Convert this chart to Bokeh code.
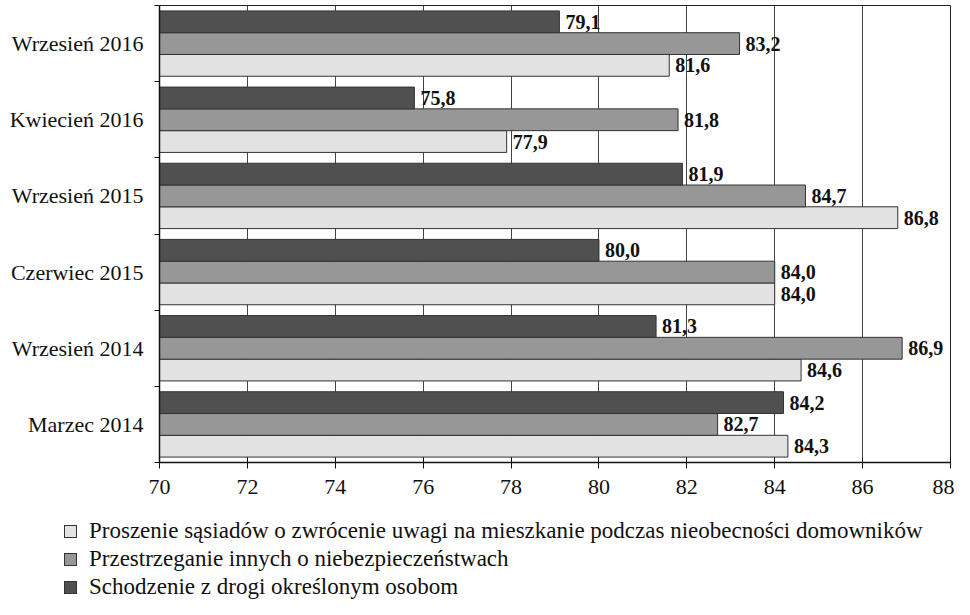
from bokeh.plotting import figure
from bokeh.layouts import column
from bokeh.models import Range1d, FixedTicker, ColumnDataSource, Div
from bokeh.core.properties import value
from bokeh.embed import file_html
from bokeh.resources import INLINE

categories = ["Marzec 2014", "Wrzesień 2014", "Czerwiec 2015",
              "Wrzesień 2015", "Kwiecień 2016", "Wrzesień 2016"]
series_names = [
    "Proszenie sąsiadów o zwrócenie uwagi na mieszkanie podczas nieobecności domowników",
    "Przestrzeganie innych o niebezpieczeństwach",
    "Schodzenie z drogi określonym osobom",
]
proszenie = [84.3, 84.6, 84.0, 86.8, 77.9, 81.6]
przestrzeganie = [82.7, 86.9, 84.0, 84.7, 81.8, 83.2]
schodzenie = [84.2, 81.3, 80.0, 81.9, 75.8, 79.1]
x_ticks = [70, 72, 74, 76, 78, 80, 82, 84, 86, 88]

FONT = "Liberation Serif"
colors = ["#e2e2e2", "#979797", "#505050"]
offsets = [-0.286, 0.0, 0.286]
bar_h = 0.286

W = 954
H1 = 502
H2 = 97

p = figure(width=W, height=H1, output_backend="svg", toolbar_location=None,
           x_range=Range1d(70, 88), y_range=Range1d(0, len(categories)),
           min_border_left=159, min_border_right=4, min_border_top=5,
           min_border_bottom=40)
p.outline_line_color = "#222222"
p.outline_line_width = 1

for vals, col, off in zip([proszenie, przestrzeganie, schodzenie], colors, offsets):
    ys = [i + 0.5 + off for i in range(len(categories))]
    src = ColumnDataSource(dict(y=ys, x=vals, labels=[f"{v:.1f}".replace(".", ",") for v in vals]))
    p.hbar(y="y", right="x", left=70, height=bar_h, source=src,
           fill_color=col, line_color="#333333", line_width=1)
    p.text(x="x", y="y", text="labels", source=src, x_offset=6,
           text_baseline="middle", text_align="left",
           text_font=value(FONT), text_font_style="bold", text_font_size="20px",
           text_color="#111111")

# x axis
p.xaxis.ticker = FixedTicker(ticks=x_ticks)
p.xaxis.major_label_text_font = FONT
p.xaxis.major_label_text_font_size = "22px"
p.xaxis.major_label_text_color = "#111111"
p.xaxis.axis_line_color = "#111111"
p.xaxis.axis_line_width = 1.5
p.xaxis.major_tick_line_color = "#111111"
p.xaxis.major_tick_in = 5
p.xaxis.major_tick_out = 6
p.xaxis.minor_tick_line_color = None
p.xaxis.major_label_standoff = 11

# y axis: labels at group centres, small ticks at group boundaries
centers = [i + 0.5 for i in range(len(categories))]
bounds = list(range(len(categories) + 1))
p.yaxis.ticker = FixedTicker(ticks=centers, minor_ticks=bounds)
p.yaxis.major_label_overrides = {c: lab for c, lab in zip(centers, categories)}
p.yaxis.major_label_text_font = FONT
p.yaxis.major_label_text_font_size = "22px"
p.yaxis.major_label_text_color = "#111111"
p.yaxis.major_tick_line_color = None
p.yaxis.major_tick_out = 0
p.yaxis.major_tick_in = 0
p.yaxis.minor_tick_line_color = "#111111"
p.yaxis.minor_tick_out = 5
p.yaxis.minor_tick_in = 0
p.yaxis.axis_line_color = "#111111"
p.yaxis.axis_line_width = 1.5
p.yaxis.major_label_standoff = 11

p.xgrid.ticker = FixedTicker(ticks=x_ticks[1:-1])
p.xgrid.grid_line_color = "#444444"
p.xgrid.grid_line_width = 1
p.ygrid.grid_line_color = None

# legend block below the chart
rows_html = "".join(
    f'<div style="display:flex;align-items:center;height:28px;white-space:nowrap">'
    f'<span style="display:inline-block;width:13px;height:13px;background:{c};'
    f'border:1px solid #333;margin-right:12px;flex:none"></span>{n}</div>'
    for n, c in zip(series_names, colors)
)
legend_html = (f'<div style="font-family:\'{FONT}\',serif;font-size:23px;color:#111111;'
               f'padding-top:15px;padding-left:64px;line-height:28px">{rows_html}</div>')
legend_div = Div(text=legend_html, width=W, height=H2, margin=0)

layout = column(p, legend_div, spacing=0)
open("out.html", "w").write(file_html(layout, INLINE))
